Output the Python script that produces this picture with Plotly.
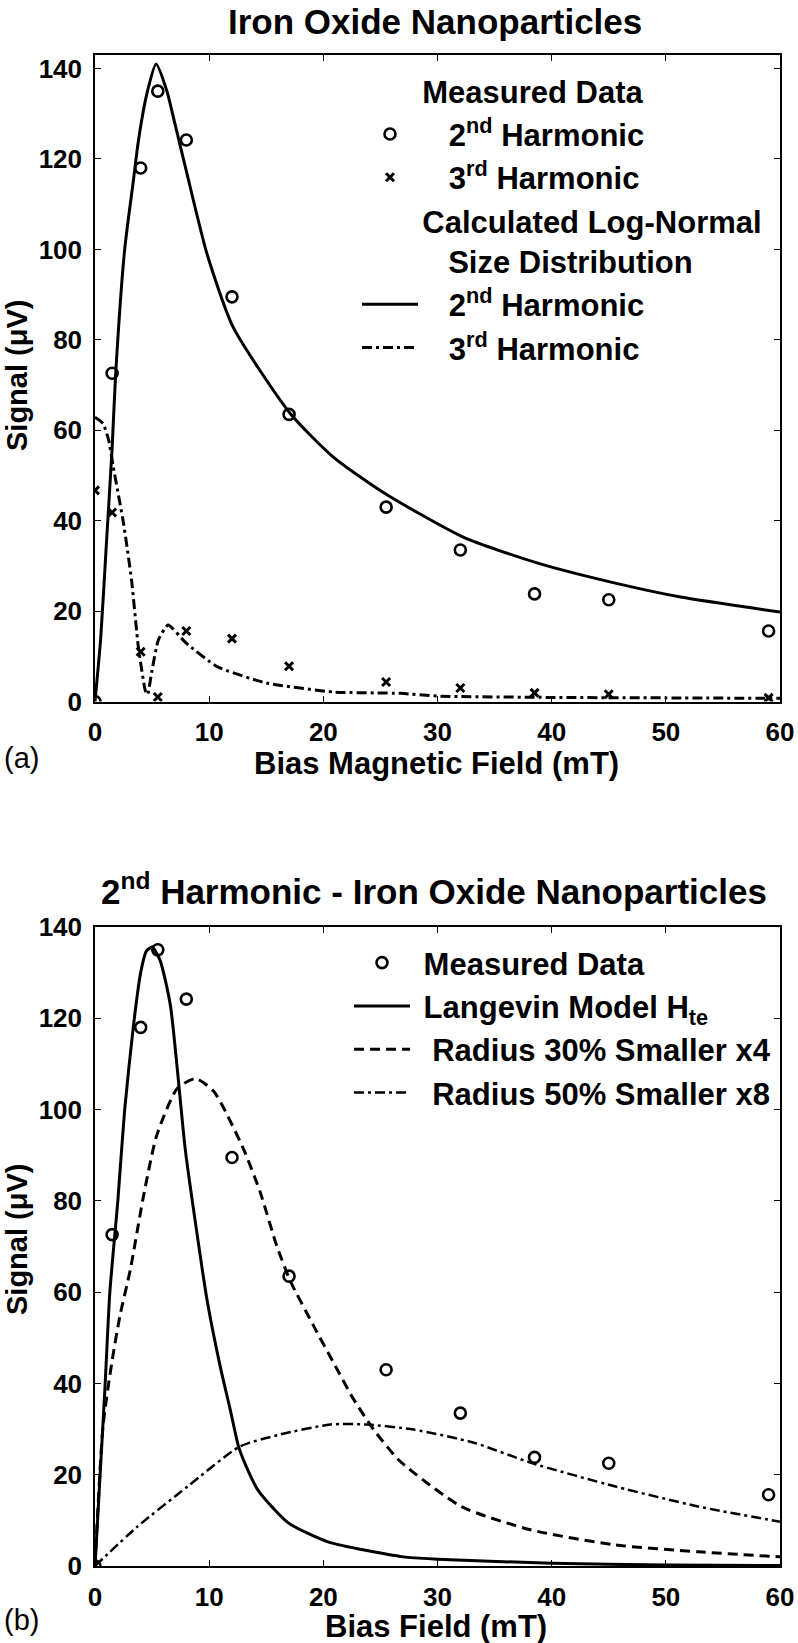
import plotly.graph_objects as go
from plotly.subplots import make_subplots

W, H = 798, 1643
FONT = "Liberation Sans, Arial, sans-serif"
NB = "\u00a0"

# measured data (same in both panels)
bias = [0, 1.5, 4, 5.5, 8, 12, 17, 25.5, 32, 38.5, 45, 59]
meas_2nd = [0, 72.6, 118, 135, 124.2, 89.5, 63.5, 43, 33.5, 23.8, 22.5, 15.6]
meas_3rd = [46.7, 41.8, 11, 1.0, 15.6, 13.9, 7.8, 4.3, 3.0, 1.9, 1.6, 0.8]

# (a) calculated log-normal size distribution
calc2_x = [0, 0.5, 1.0, 1.5, 1.8, 2.6, 3.35, 3.8, 4.55, 5.35, 6.3, 7.0, 8.05, 9.8,
           12.1, 17.1, 20.9, 25.4, 32.3, 38.8, 45.2, 51.3, 60]
calc2_y = [0, 14, 35, 56, 72, 100, 115, 124, 134.5, 141, 135, 127.8, 116.8, 99.1,
           82.8, 63.7, 54, 46, 36.3, 30.6, 26.4, 23.1, 19.8]
calc3_x = [0, 0.7, 1.2, 1.6, 2.5, 3.2, 3.8, 4.4, 4.6, 5.0, 5.55, 6.4, 8.0, 10.7,
           15, 20.9, 26.8, 30, 40, 50, 60]
calc3_y = [62.9, 61.5, 57.8, 51.9, 39.4, 26.9, 12, 2.5, 1.5, 7, 13.6, 16.9, 12.9, 7.7,
           4.1, 2.1, 1.8, 1.2, 0.9, 0.8, 0.7]

# (b) model curves
lang_x = [0, 0.44, 0.88, 1.3, 2.0, 2.6, 3.35, 4.0, 4.5, 5.0, 5.7, 6.6, 7.9, 8.92, 9.8,
          10.96, 11.84, 12.57, 13.3, 14.3, 16.9, 20.4, 27, 30, 40, 50, 60]
lang_y = [0, 19.6, 39.4, 60, 80, 100, 118, 130, 134.7, 135.6, 132.7, 122.9, 91.4, 73.1,
          58.5, 43.8, 34.3, 26.2, 21.5, 16.5, 9.5, 5.3, 2, 1.5, 0.6, 0.2, 0.1]
r30_x = [0, 0.7, 1.5, 2.2, 3.1, 4.2, 5.4, 7.2, 8.8, 10.4, 13.0, 14.47, 15.94, 17.1,
         19.15, 20.9, 22.66, 24.4, 26.7, 32.1, 38.2, 45.6, 52.9, 60]
r30_y = [0, 30.6, 45, 55, 65, 80.4, 94.3, 104.6, 106.8, 104, 91.4, 81.9, 70, 62.5,
         52.6, 44.5, 36.5, 29.9, 23, 13, 7.9, 4.6, 3.1, 2]
r50_x = [0, 3.7, 8.1, 12.7, 16.2, 20.6, 23.8, 27.9, 33.2, 38.2, 45.6, 52.9, 60]
r50_y = [0, 8.6, 17.4, 26.2, 28.8, 31, 31, 29.9, 27, 22.6, 17.4, 13, 9.7]

x_ticks = [0, 10, 20, 30, 40, 50, 60]
y_ticks = [0, 20, 40, 60, 80, 100, 120, 140]


def px_x(p):
    return p / W


def px_y(p):
    return 1 - p / H


def pad(text, n):
    return NB * n + text


fig = make_subplots(rows=2, cols=1)

circle = dict(symbol="circle-open", size=11, color="black", line=dict(width=2.6, color="black"))
cross = dict(symbol="x-thin-open", size=8, color="black", line=dict(width=3, color="black"))

# panel (a)
fig.add_trace(go.Scatter(x=bias, y=meas_2nd, mode="markers", marker=circle,
                         name=pad("2<sup>nd</sup> Harmonic", 3), legendgroup="m",
                         legendgrouptitle_text=pad("Measured Data", 7), legend="legend"),
              row=1, col=1)
fig.add_trace(go.Scatter(x=bias, y=meas_3rd, mode="markers", marker=cross,
                         name=pad("3<sup>rd</sup> Harmonic", 3), legendgroup="m", legend="legend"),
              row=1, col=1)
fig.add_trace(go.Scatter(x=calc2_x, y=calc2_y, mode="lines",
                         line=dict(color="black", width=3, shape="spline", smoothing=0.6),
                         name=pad("2<sup>nd</sup> Harmonic", 3), legendgroup="c",
                         legendgrouptitle_text=pad("Calculated Log-Normal", 7) + "<br>"
                         + pad("Size Distribution", 10),
                         legend="legend"), row=1, col=1)
fig.add_trace(go.Scatter(x=calc3_x, y=calc3_y, mode="lines",
                         line=dict(color="black", width=3, dash="10px,4px,3px,4px",
                                   shape="spline", smoothing=0.5),
                         name=pad("3<sup>rd</sup> Harmonic", 3), legendgroup="c", legend="legend"),
              row=1, col=1)

# panel (b)
fig.add_trace(go.Scatter(x=bias, y=meas_2nd, mode="markers", marker=circle,
                         name=pad("Measured Data", 1), legend="legend2"), row=2, col=1)
fig.add_trace(go.Scatter(x=lang_x, y=lang_y, mode="lines",
                         line=dict(color="black", width=3, shape="spline", smoothing=0.6),
                         name=pad("Langevin Model H<sub>te</sub>", 1), legend="legend2"), row=2, col=1)
fig.add_trace(go.Scatter(x=r30_x, y=r30_y, mode="lines",
                         line=dict(color="black", width=3, dash="10px,6px",
                                   shape="spline", smoothing=0.6),
                         name=pad("Radius 30% Smaller x4", 2), legend="legend2"), row=2, col=1)
fig.add_trace(go.Scatter(x=r50_x, y=r50_y, mode="lines",
                         line=dict(color="black", width=2.5, dash="10px,4px,3px,4px",
                                   shape="spline", smoothing=0.6),
                         name=pad("Radius 50% Smaller x8", 2), legend="legend2"), row=2, col=1)

axis_common = dict(
    showline=True, linecolor="black", linewidth=1.5, mirror="ticks",
    ticks="inside", ticklen=6, tickwidth=1.2, tickcolor="black",
    showgrid=False, zeroline=False, automargin=False,
    tickfont=dict(family=FONT, size=26, color="black", weight="bold"),
)

x_dom = [px_x(95), px_x(780)]
fig.update_xaxes(**axis_common, range=[0, 60], tickvals=x_ticks, domain=x_dom,
                 ticklabelstandoff=7)
fig.update_yaxes(**axis_common, tickvals=y_ticks, ticklabelstandoff=6)
fig.update_yaxes(range=[0, 143], domain=[px_y(701.5), px_y(55)], row=1, col=1)
fig.update_yaxes(range=[0, 140], domain=[px_y(1566), px_y(927)], row=2, col=1)

title_font = dict(family=FONT, size=35, color="black", weight="bold")
lab_font = dict(family=FONT, size=31, color="black", weight="bold")
ylab_font = dict(family=FONT, size=29, color="black", weight="bold")
panel_font = dict(family=FONT, size=29, color="black")

annotations = [
    dict(text="Iron Oxide Nanoparticles", x=px_x(435), y=px_y(22), font=title_font),
    dict(text="2<sup>nd</sup> Harmonic - Iron Oxide Nanoparticles", x=px_x(434), y=px_y(889),
         font=title_font),
    dict(text="Bias Magnetic Field (mT)", x=px_x(436), y=px_y(763), font=lab_font),
    dict(text="Bias Field (mT)", x=px_x(436), y=px_y(1626), font=lab_font),
    dict(text="Signal (μV)", x=px_x(17), y=px_y(376), font=ylab_font, textangle=-90),
    dict(text="Signal (μV)", x=px_x(17), y=px_y(1240), font=ylab_font, textangle=-90),
    dict(text="(a)", x=px_x(21), y=px_y(758), font=panel_font),
    dict(text="(b)", x=px_x(21), y=px_y(1620), font=panel_font),
]
for a in annotations:
    a.update(xref="paper", yref="paper", showarrow=False, xanchor="center", yanchor="middle")

legend_font = dict(family=FONT, size=31, color="black", weight="bold")
fig.update_layout(
    width=W, height=H,
    margin=dict(l=0, r=0, t=0, b=0, autoexpand=False),
    paper_bgcolor="white", plot_bgcolor="white",
    annotations=annotations,
    showlegend=True,
    legend=dict(x=px_x(357), y=px_y(64), xanchor="left", yanchor="top",
                bgcolor="rgba(0,0,0,0)", font=legend_font, grouptitlefont=legend_font,
                tracegroupgap=0, itemwidth=56, traceorder="grouped"),
    legend2=dict(x=px_x(349), y=px_y(936), xanchor="left", yanchor="top",
                 bgcolor="rgba(0,0,0,0)", font=legend_font, itemwidth=56),
)

# page body has a default margin; remove it so the figure sits at the window origin
fig.write_html("out.html", config={"displayModeBar": False}, post_script=[
    "document.body.style.margin='0';document.body.style.padding='0';"
    "document.documentElement.style.overflow='hidden';"
])
